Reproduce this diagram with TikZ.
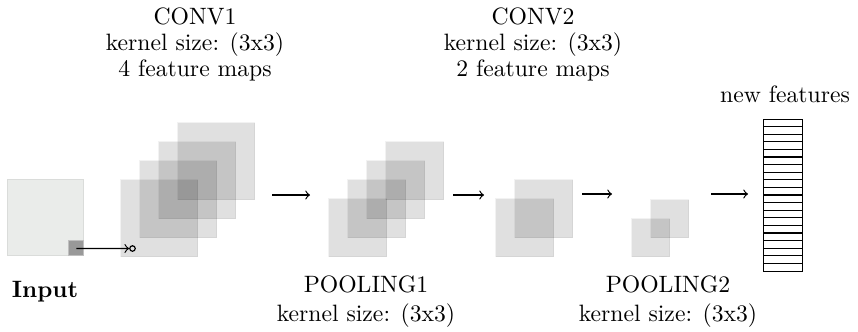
\documentclass[tikz,border=0pt]{standalone}
\usetikzlibrary{positioning}

\definecolor{inputfill}{RGB}{234,236,234}
\definecolor{inputline}{RGB}{218,220,218}
\newcommand{\pxu}{0.4225pt}

\begin{document}
\begin{tikzpicture}[
  x=0.4225pt, y=-0.4225pt,
  fmap/.style={rectangle, fill=black, fill opacity=0.12, draw=black,
    draw opacity=0.05, line width=0.6pt, inner sep=0, anchor=north west},
  big/.style={fmap, minimum size=77*\pxu},
  mid/.style={fmap, minimum size=58*\pxu},
  small/.style={fmap, minimum size=38*\pxu},
  lbl/.style={align=center, anchor=north, inner sep=0},
  flow/.style={->, line width=0.5pt},
]
\useasboundingbox (0,0) rectangle (858,331);

% Input image with the kernel patch
\node[rectangle, fill=inputfill, draw=inputline, line width=0.6pt, inner sep=0,
  minimum size=76*\pxu, anchor=north west] (input) at (7,179) {};
\node[rectangle, fill=black!40, draw=black!25, inner sep=0,
  minimum size=15*\pxu, anchor=south east] (patch) at (input.south east) {};
\node[circle, draw, line width=0.5pt, inner sep=0, minimum size=5.5*\pxu]
  (probe) at (132.5,248.5) {};
\draw[flow] (patch.center) -- (probe.west);

% CONV1: 4 feature maps
\node[big] (c1a) at (120,179) {};
\node[big] (c1b) at (139,160) {};
\node[big] (c1c) at (158,141) {};
\node[big] (c1d) at (177,122) {};

% POOLING1
\node[mid] (p1a) at (328,198) {};
\node[mid] (p1b) at (347,179) {};
\node[mid] (p1c) at (366,160) {};
\node[mid] (p1d) at (385,141) {};

% CONV2: 2 feature maps
\node[mid] (c2a) at (495,198) {};
\node[mid] (c2b) at (514,179) {};

% POOLING2
\node[small] (p2a) at (631,218) {};
\node[small] (p2b) at (650,199) {};

% new features vector
\node[rectangle, draw, line width=0.5pt, inner sep=0, anchor=north west,
  minimum width=39*\pxu, minimum height=152*\pxu] (feat) at (763,119) {};
\foreach \k in {1,...,19}
  \draw[line width=0.5pt] (763,{119+\k*7.6}) -- (802,{119+\k*7.6});

% Arrows between stages
\coordinate (a1s) at (272,195);
\coordinate (a1e) at (310,195);
\coordinate (a2s) at (453,195);
\coordinate (a2e) at (484,195);
\coordinate (a3s) at (582,194);
\coordinate (a3e) at (612,194);
\coordinate (a4s) at (711,194);
\coordinate (a4e) at (748,194);
\draw[flow] (a1s) -- (a1e);
\draw[flow] (a2s) -- (a2e);
\draw[flow] (a3s) -- (a3e);
\draw[flow] (a4s) -- (a4e);

% Labels
\node[lbl] (conv1) at (195,7.8)
  {CONV1\\[-1.1pt]kernel size: (3x3)\\[-1.1pt]4 feature maps};
\node[lbl] (conv2) at (533,7.8)
  {CONV2\\[-1.1pt]kernel size: (3x3)\\[-1.1pt]2 feature maps};
\node[lbl] (newf) at (785,85.6) {new features};
\node[lbl] (inlbl) at (45,280.8) {\bfseries Input};
\node[lbl] (pool1) at (366,275.8) {POOLING1\\kernel size: (3x3)};
\node[lbl] (pool2) at (668,275.8) {POOLING2\\kernel size: (3x3)};

\end{tikzpicture}
\end{document}
